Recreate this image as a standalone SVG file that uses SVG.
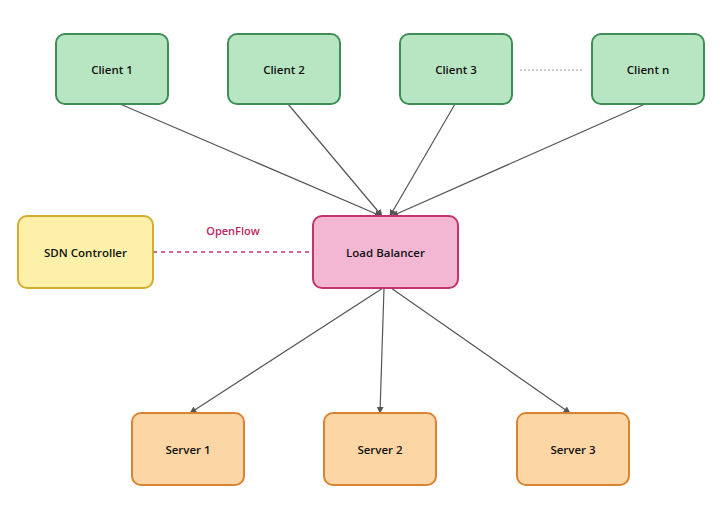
<svg xmlns="http://www.w3.org/2000/svg" width="722" height="519" viewBox="0 0 722 519">
<style>
.n rect{stroke-width:2}
.client rect{fill:#b8e6c2;stroke:#3f8d57}
.lb rect{fill:#f4b7d3;stroke:#c2336f}
.sdn rect{fill:#fdf0a8;stroke:#d4ad2f}
.srv rect{fill:#fdd6a6;stroke:#d98432}
text{font-family:"Open Sans","DejaVu Sans",sans-serif;font-weight:600;font-size:11.5px;fill:#111;text-anchor:middle;dominant-baseline:central}
.edge{stroke:#555;stroke-width:1.2;fill:none;marker-end:url(#ah)}
</style>
<defs>
<marker id="ah" viewBox="0 0 10 10" refX="9" refY="5" markerWidth="7" markerHeight="7" orient="auto" markerUnits="userSpaceOnUse"><path d="M0,0 L10,5 L0,10 z" fill="#555"/></marker>
</defs>
<rect width="722" height="519" fill="#fff"/>
<g id="connectors">
<line class="edge" x1="120" y1="104" x2="381" y2="216"/>
<line class="edge" x1="288" y1="104" x2="382" y2="216"/>
<line class="edge" x1="455" y1="104" x2="390" y2="216"/>
<line class="edge" x1="645" y1="104" x2="392" y2="216"/>
<line class="edge" x1="383" y1="288" x2="190" y2="413"/>
<line class="edge" x1="384" y1="288" x2="380" y2="413"/>
<line class="edge" x1="391" y1="288" x2="570" y2="413"/>
<line x1="520" y1="70" x2="584" y2="70" stroke="#999" stroke-width="1.2" stroke-dasharray="2,2"/>
<line x1="153" y1="252" x2="313" y2="252" stroke="#c8306f" stroke-width="1.3" stroke-dasharray="4,4"/>
<text x="233" y="230" style="fill:#b8275f;font-size:11px">OpenFlow</text>
</g>
<g id="client1" class="n client"><rect x="56" y="34" width="112" height="70" rx="9"/><text x="112" y="69">Client 1</text></g>
<g id="client2" class="n client"><rect x="228" y="34" width="112" height="70" rx="9"/><text x="284" y="69">Client 2</text></g>
<g id="client3" class="n client"><rect x="400" y="34" width="112" height="70" rx="9"/><text x="456" y="69">Client 3</text></g>
<g id="clientn" class="n client"><rect x="592" y="34" width="112" height="70" rx="9"/><text x="648" y="69">Client n</text></g>
<g id="sdn" class="n sdn"><rect x="18" y="216" width="135" height="72" rx="9"/><text x="85.5" y="252">SDN Controller</text></g>
<g id="lb" class="n lb"><rect x="313" y="216" width="145" height="72" rx="9"/><text x="385.5" y="252">Load Balancer</text></g>
<g id="server1" class="n srv"><rect x="132" y="413" width="112" height="72" rx="9"/><text x="188" y="449">Server 1</text></g>
<g id="server2" class="n srv"><rect x="324" y="413" width="112" height="72" rx="9"/><text x="380" y="449">Server 2</text></g>
<g id="server3" class="n srv"><rect x="517" y="413" width="112" height="72" rx="9"/><text x="573" y="449">Server 3</text></g>
</svg>
